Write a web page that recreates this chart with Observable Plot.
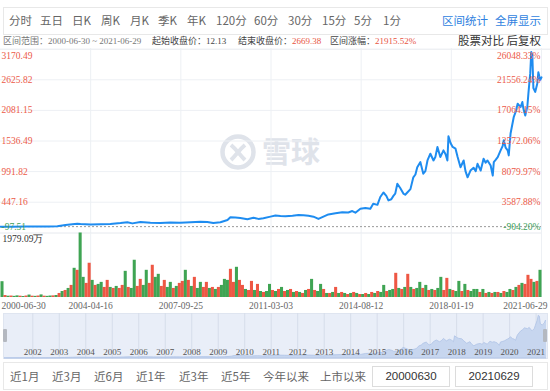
<!DOCTYPE html>
<html><head><meta charset="utf-8">
<script src="https://cdn.jsdelivr.net/npm/d3@7"></script>
<script src="https://cdn.jsdelivr.net/npm/@observablehq/plot@0.6"></script>
<style>
body{margin:0;width:550px;height:391px;background:#fff;position:relative;overflow:hidden;font-family:"Noto Sans CJK SC","Noto Sans",sans-serif;}
.abs{position:absolute;white-space:nowrap;}
.tb{top:13px;font-size:11.5px;line-height:14px;color:#666;}
.blue{color:#2f7fe0;}
.info{top:35px;font-size:9px;line-height:12px;color:#444;font-family:"Liberation Serif","Noto Sans CJK SC",serif;}
.red{color:#e8553f;}
.br{top:369px;font-size:11.5px;line-height:14px;color:#666;}
.inp{top:366px;height:19px;border:1px solid #dcdcdc;font-size:11.5px;line-height:19px;text-align:center;color:#333;font-family:"Liberation Sans","Noto Sans",sans-serif;}
.plot{position:absolute;left:0;}
</style></head>
<body>
<div class="abs" style="left:3px;top:7px;width:543px;height:26px;border:1px solid #e8e8e8;"></div>
<div id="toolbar"></div>
<div class="abs info" style="left:3px;color:#777;">区间范围：2000-06-30 ~ 2021-06-29</div>
<div class="abs info" style="left:152px;">起始收盘价：12.13</div>
<div class="abs info" style="left:238px;">结束收盘价：<span class="red">2669.38</span></div>
<div class="abs info" style="left:330px;">区间涨幅：<span class="red">21915.52%</span></div>
<div class="abs" style="right:9px;top:33px;font-size:11.5px;line-height:15px;color:#333;">股票对比 后复权</div>
<svg class="abs" style="left:215px;top:130px;" width="115" height="45">
  <circle cx="23" cy="22" r="15.5" fill="none" stroke="#dfe3ea" stroke-width="4.5"/>
  <path d="M16 15 C22 20,24 24,30 30 M30 15 C24 20,22 24,16 30" fill="none" stroke="#dfe3ea" stroke-width="4"/>
  <text x="47" y="33" font-size="29" font-weight="700" fill="#dfe3ea" font-family="Noto Sans CJK SC">雪球</text>
</svg>
<div id="main" class="plot" style="top:48px;"></div>
<div id="vol" class="plot" style="top:232px;"></div>
<div class="abs" style="left:3px;top:313px;width:543px;height:44px;background:#e9eef8;border:1px solid #dfe5f0;"></div>
<div id="nav" class="plot" style="top:313px;"></div>
<div class="abs" style="left:3px;top:329px;width:4px;height:13px;background:#b4b8c0;border-radius:1px;"></div>
<div class="abs" style="left:543px;top:329px;width:4px;height:13px;background:#b4b8c0;border-radius:1px;"></div>
<div class="abs" style="left:3px;top:362px;width:543px;height:26px;border:1px solid #e8e8e8;"></div>
<div id="bottom"></div>
<script>
// ---- data ----
const toolbarItems = ["分时","五日","日K","周K","月K","季K","年K","120分","60分","30分","15分","5分","1分"];
const toolbarLeft = [9,40,72,101,130,158,187,216,254,288,322,354,383];
const rangeButtons = ["近1月","近3月","近6月","近1年","近3年","近5年","今年以来"];
const rangeLeft = [10,52,94,136,179,221,263];
const tickDates = ["2000-06-30","2004-04-16","2007-09-25","2011-03-03","2014-08-12","2018-01-19","2021-06-29"];
const tickYears = [2000.50, 2004.29, 2007.73, 2011.17, 2014.61, 2018.05, 2021.49];
const priceTicks = [-97.51, 447.16, 991.82, 1536.49, 2081.15, 2625.82, 3170.49];
const pctTicks = ["-904.20%","3587.88%","8079.97%","12572.06%","17064.15%","21556.24%","26048.33%"];
const startClose = 12.13;
const volMaxLabel = "1979.09万";
const volMax = 1979.09;
const navYears = [2002,2003,2004,2005,2006,2007,2008,2009,2010,2011,2012,2013,2014,2015,2016,2017,2018,2019,2020,2021];

const priceYear = [2000.50,2000.99,2001.50,2002.01,2002.51,2002.89,2003.23,2003.52,2003.73,2003.86,
2004.28,2004.66,2005.04,2005.43,2005.69,2005.88,2006.19,2006.57,2006.95,2007.33,
2007.71,2008.10,2008.48,2008.74,2008.97,2009.24,2009.51,2009.62,2009.81,2010.00,
2010.27,2010.50,2010.69,2010.88,2011.15,2011.34,2011.53,2011.72,2011.99,2012.22,
2012.41,2012.60,2012.79,2012.98,2013.17,2013.36,2013.63,2013.89,2014.12,2014.27,
2014.39,2014.58,2014.77,2014.96,2015.07,2015.23,2015.34,2015.46,2015.57,2015.65,
2015.76,2015.84,2015.91,2015.99,2016.10,2016.22,2016.29,2016.37,2016.49,2016.60,
2016.68,2016.75,2016.87,2016.98,2017.06,2017.14,2017.25,2017.37,2017.44,2017.52,
2017.63,2017.75,2017.83,2017.90,2017.94,2018.02,2018.10,2018.21,2018.29,2018.40,
2018.52,2018.59,2018.67,2018.78,2018.90,2018.98,2019.05,2019.17,2019.28,2019.36,
2019.43,2019.55,2019.63,2019.67,2019.74,2019.82,2019.93,2020.01,2020.05,2020.12,
2020.20,2020.24,2020.31,2020.43,2020.50,2020.58,2020.69,2020.76,2020.80,2020.87,
2020.95,2020.99,2021.06,2021.10,2021.14,2021.18,2021.25,2021.33,2021.37,2021.44,
2021.49];
const priceClose = [12.13,12,14,15,16,20,40,55,65,60,
50,55,58,75,90,70,95,80,75,85,
80,90,100,95,75,90,130,180,175,165,
145,170,150,160,190,210,200,195,205,220,
215,205,190,150,190,230,250,270,265,290,
260,330,345,330,420,400,540,620,560,480,
500,560,600,775,700,600,580,620,680,890,
940,1070,1160,955,1000,1190,1310,1190,1250,1430,
1250,1370,1300,1190,1620,1500,1430,1400,1250,1070,
1190,1000,890,1010,1060,1000,1130,1010,1220,1150,
1190,1100,920,1160,1200,1250,1370,1450,1550,1420,
1370,1280,1670,1960,2050,2200,2140,2230,2110,1990,
2150,2380,2740,3120,3060,2480,2410,2560,2760,2620,
2669.38];

// volume (万), evenly spaced slots across the trading sessions
const volume = [485,60,40,45,35,50,40,30,45,75,
40,35,45,80,40,35,45,50,62,124,
185,216,278,371,896,834,1979,618,433,1051,
525,371,402,464,309,525,309,278,340,278,
371,803,309,278,1143,340,556,371,834,433,
989,618,711,340,525,309,464,278,340,433,
494,834,525,340,618,278,464,309,464,278,
309,247,309,371,556,525,865,464,927,525,
371,247,216,494,216,402,185,155,185,402,
216,185,247,309,185,216,247,155,185,155,
124,216,247,556,216,185,402,247,124,124,
155,309,124,155,124,93,124,155,124,93,
93,124,93,155,124,185,155,371,185,216,
247,742,278,247,309,711,309,247,278,464,
278,371,216,247,216,278,618,216,587,247,
216,185,494,185,402,216,185,247,247,155,
247,124,155,124,155,155,124,185,155,247,
216,309,371,433,402,680,556,464,494,834];
const volDir = "grgrggrgrg"+"rgrgrggrgr"+"grgrgrggrr"+"grggrrgrgr"+"rgrggrrggr"+"rggrrggrgr"+
"rgrgrggrrg"+"rgrgggrrgr"+"rgrrgrgrgg"+"rgrgrgrgrg"+"rgrgrggrgr"+"grgrgrgrgr"+
"grgrgrggrg"+"grgrgrgrgg"+"rgrgrggrrg"+"rggrgrgggr"+"grgrgrgrgg"+"rgrgrrrgrg";

// ---- html chrome ----
const tb = document.getElementById("toolbar");
toolbarItems.forEach((t,i)=>{const d=document.createElement("div");d.className="abs tb";d.style.left=toolbarLeft[i]+"px";d.textContent=t;tb.appendChild(d);});
[["区间统计",442],["全屏显示",495]].forEach(([t,l])=>{const d=document.createElement("div");d.className="abs tb blue";d.style.left=l+"px";d.textContent=t;tb.appendChild(d);});
const bt = document.getElementById("bottom");
rangeButtons.forEach((t,i)=>{const d=document.createElement("div");d.className="abs br";d.style.left=rangeLeft[i]+"px";d.textContent=t;bt.appendChild(d);});
{const d=document.createElement("div");d.className="abs br blue";d.style.left="320px";d.textContent="上市以来";bt.appendChild(d);}
[[tickDates[0].replaceAll("-",""),372],[tickDates[6].replaceAll("-",""),455]].forEach(([t,l])=>{const d=document.createElement("div");d.className="abs inp";d.style.left=l+"px";d.style.width="76px";d.textContent=t;bt.appendChild(d);});

// ---- charts ----
const red = "#ec5a48", green = "#3e9f5a", grid = "#edf0f4", serif = "Liberation Serif";
const xRange = tickYears.map((_, i) => i * 541 / 6);
const xScale = () => ({type: "linear", domain: tickYears, range: xRange, axis: null});
const price = priceYear.map((t, i) => ({t, v: priceClose[i]}));
const slotToYear = d3.scaleLinear().domain(tickYears.map((_, i) => i / 6)).range(tickYears);
const vols = volume.map((v, j) => ({t: slotToYear((j + 0.5) / volume.length), v, up: volDir[j] === "r"}));
const fmt = d => d.toFixed(2);
const lab = {fontFamily: serif, fontSize: 9.5};

const main = Plot.plot({
  width: 550, height: 185, margin: 0,
  x: xScale(),
  y: {domain: [priceTicks[0], priceTicks[6]], range: [184.3, 0.7], axis: null},
  style: {background: "transparent", overflow: "visible"},
  marks: [
    Plot.ruleY(priceTicks.slice(1, 6), {x1: tickYears[0], x2: tickYears[6], stroke: grid}),
    Plot.ruleY([priceTicks[6]], {stroke: "#e6e9ee"}),
    Plot.ruleX(tickYears.slice(1), {stroke: grid}),
    Plot.ruleY([startClose], {x1: tickYears[0], x2: tickYears[6], stroke: "#9a9a9a", strokeDasharray: "2,2"}),
    Plot.line(price, {x: "t", y: "v", stroke: "#1e8cf0", strokeWidth: 2}),
    Plot.text([priceTicks[6]], {x: tickYears[0], y: d => d, text: fmt, textAnchor: "start", dx: 1, dy: 6.5, fill: red, ...lab}),
    Plot.text(priceTicks.slice(1, 6), {x: tickYears[0], y: d => d, text: fmt, textAnchor: "start", dx: 1, fill: red, ...lab}),
    Plot.text([priceTicks[0]], {x: tickYears[0], y: d => d, text: fmt, textAnchor: "start", dx: 1, dy: -6, fill: green, ...lab}),
    Plot.text([pctTicks[6]], {x: tickYears[6], y: () => priceTicks[6], text: d => d, textAnchor: "end", dx: -1, dy: 6.5, fill: red, ...lab}),
    Plot.text(pctTicks.slice(1, 6), {x: tickYears[6], y: (d, i) => priceTicks[i + 1], text: d => d, textAnchor: "end", dx: -1, fill: red, ...lab}),
    Plot.text([pctTicks[0]], {x: tickYears[6], y: () => priceTicks[0], text: d => d, textAnchor: "end", dx: -1, dy: -6, fill: green, ...lab})
  ]
});
document.getElementById("main").appendChild(main);

const vol = Plot.plot({
  width: 550, height: 82, margin: 0,
  x: xScale(),
  y: {domain: [0, volMax], range: [65, 0.5], axis: null},
  style: {background: "transparent", overflow: "visible"},
  marks: [
    Plot.ruleY([volMax], {x1: tickYears[0], x2: tickYears[6], stroke: "#e6e9ee"}),
    Plot.ruleX(tickYears.slice(1), {y1: 0, y2: volMax, stroke: grid}),
    Plot.ruleX(vols, {x: "t", y1: 0, y2: "v", stroke: d => d.up ? "#ec4530" : "#2a9a40", strokeWidth: 3.05, strokeOpacity: 0.9}),
    Plot.text([volMaxLabel], {frameAnchor: "top-left", dx: 2, dy: 3, fill: "#333", lineAnchor: "top", ...lab}),
    Plot.text([tickDates[0]], {x: tickYears[0], y: () => 0, text: d => d, textAnchor: "start", dx: 1, dy: 8, fill: "#666", ...lab}),
    Plot.text(tickDates.slice(1, 6), {x: (d, i) => tickYears[i + 1], y: () => 0, text: d => d, textAnchor: "middle", dy: 8, fill: "#666", ...lab}),
    Plot.text([tickDates[6]], {x: tickYears[6], y: () => 0, text: d => d, textAnchor: "end", dx: 6, dy: 8, fill: "#666", ...lab})
  ]
});
document.getElementById("vol").appendChild(vol);

const nav = Plot.plot({
  width: 550, height: 46, marginLeft: 4, marginRight: 4, marginTop: 0, marginBottom: 0,
  x: {type: "linear", domain: [2000.894, 2021.43], range: [3, 547], axis: null},
  y: {domain: [0, priceTicks[6]], range: [45, 1.5], axis: null},
  style: {background: "transparent", overflow: "visible"},
  marks: [
    Plot.ruleX(navYears, {stroke: "#d6ddea"}),
    Plot.areaY(price, {x: "t", y: "v", fill: "#c7d6ef", stroke: "#aec3e6", strokeWidth: 0.8, clip: true}),
    Plot.text(navYears, {x: d => d, y: () => 0, text: d => String(d), dy: -6, fill: "#555", fontFamily: serif, fontSize: 9})
  ]
});
document.getElementById("nav").appendChild(nav);
</script>
</body></html>
